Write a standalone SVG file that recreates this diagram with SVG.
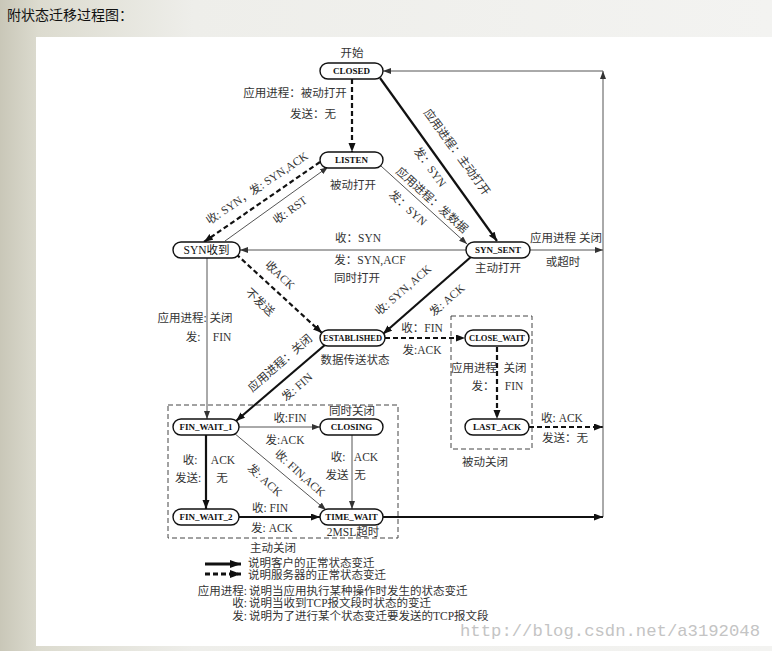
<svg xmlns="http://www.w3.org/2000/svg" width="772" height="651" viewBox="0 0 772 651">
<defs>
<linearGradient id="bg" x1="0" y1="0" x2="1" y2="0">
<stop offset="0" stop-color="#c9c7b8"/>
<stop offset="0.05" stop-color="#dcdbcf"/>
<stop offset="0.25" stop-color="#eeeeea"/>
<stop offset="1" stop-color="#f3f3f1"/>
</linearGradient>
<marker id="ah" markerUnits="userSpaceOnUse" markerWidth="10" markerHeight="8" refX="9" refY="3.5" orient="auto">
<path d="M0,0 L9,3.5 L0,7 z" fill="#111"/>
</marker>
<marker id="ahs" markerUnits="userSpaceOnUse" markerWidth="9" markerHeight="7" refX="8" refY="3" orient="auto">
<path d="M0,0 L8,3 L0,6 z" fill="#333"/>
</marker>
<marker id="ahl" markerUnits="userSpaceOnUse" markerWidth="12" markerHeight="9" refX="11" refY="4" orient="auto">
<path d="M0,0 L11,4 L0,8 z" fill="#111"/>
</marker>
</defs>
<style>
.nd rect{fill:#fff;stroke:#111;stroke-width:1.4}
.nl{font-family:"Liberation Serif","Noto Sans CJK SC",serif;font-weight:bold;font-size:9px;fill:#111;text-anchor:middle;dominant-baseline:central}
.t{font-family:"Liberation Serif","Noto Sans CJK SC",serif;font-size:11.5px;fill:#333;text-anchor:middle;dominant-baseline:central}
.thick{stroke:#111;stroke-width:2.2;fill:none;marker-end:url(#ah)}
.thin{stroke:#555;stroke-width:1;fill:none;marker-end:url(#ahs)}
.dash{stroke:#111;stroke-width:2.2;fill:none;stroke-dasharray:5,3;marker-end:url(#ah)}
.box{fill:none;stroke:#444;stroke-width:1;stroke-dasharray:5,3}
</style>
<rect x="0" y="0" width="772" height="651" fill="url(#bg)"/>
<rect x="36" y="37" width="736" height="609" fill="#fff"/>
<text x="7" y="20" font-family="'Noto Sans CJK SC',sans-serif" font-size="14" fill="#111">附状态迁移过程图：</text>

<g id="boxes">
<rect class="box" x="168" y="405" width="230" height="133"/>
<rect class="box" x="451" y="316" width="81" height="133"/>
</g>

<g id="connectors">
<line class="dash" x1="352" y1="79" x2="352" y2="152"/>
<line class="thick" x1="380" y1="78" x2="497" y2="241"/>
<line class="thin" x1="381" y1="166" x2="467" y2="244"/>
<line class="dash" x1="320" y1="162" x2="204" y2="242"/>
<line class="thin" x1="225" y1="241" x2="328" y2="167"/>
<line class="thin" x1="466" y1="250" x2="240" y2="250"/>
<line class="dash" x1="236" y1="254" x2="322" y2="333"/>
<line class="thick" x1="472" y1="256" x2="383" y2="334"/>
<line class="dash" x1="385" y1="338" x2="465" y2="338"/>
<line class="thick" x1="326" y1="344" x2="236" y2="421"/>
<line class="thin" x1="207" y1="258" x2="207" y2="419"/>
<line class="dash" x1="497" y1="347" x2="497" y2="419"/>
<line class="dash" x1="529" y1="427" x2="603" y2="427"/>
<line class="thin" x1="603" y1="517" x2="603" y2="71"/>
<line class="thin" x1="603" y1="71" x2="383" y2="71"/>
<line class="thin" x1="530" y1="250" x2="603" y2="250"/>
<line class="thin" x1="239" y1="427" x2="320" y2="427"/>
<line class="thin" x1="234" y1="433" x2="326" y2="510"/>
<line class="thin" x1="352" y1="435" x2="352" y2="509"/>
<line class="thick" x1="206" y1="435" x2="206" y2="509"/>
<line class="thick" x1="239" y1="517" x2="320" y2="517"/>
<line class="thick" x1="383" y1="517" x2="603" y2="517"/>
</g>

<g id="CLOSED" class="nd"><rect x="320" y="63" width="63" height="16" rx="8"/><text class="nl" x="351.5" y="71">CLOSED</text></g>
<g id="LISTEN" class="nd"><rect x="320" y="152" width="63" height="16" rx="8"/><text class="nl" x="351.5" y="160">LISTEN</text></g>
<g id="SYN_SENT" class="nd"><rect x="466" y="242" width="64" height="16" rx="8"/><text class="nl" x="498" y="250">SYN_SENT</text></g>
<g id="SYN_RCVD" class="nd"><rect x="173" y="242" width="67" height="16" rx="8"/><text class="t" x="206.5" y="250" style="fill:#111">SYN收到</text></g>
<g id="ESTABLISHED" class="nd"><rect x="320" y="330" width="65" height="16" rx="8"/><text class="nl" x="352.5" y="338" textLength="59" lengthAdjust="spacingAndGlyphs">ESTABLISHED</text></g>
<g id="CLOSE_WAIT" class="nd"><rect x="465" y="330" width="64" height="16" rx="8"/><text class="nl" x="497" y="338" textLength="56" lengthAdjust="spacingAndGlyphs">CLOSE_WAIT</text></g>
<g id="LAST_ACK" class="nd"><rect x="465" y="419" width="64" height="16" rx="8"/><text class="nl" x="497" y="427">LAST_ACK</text></g>
<g id="FIN_WAIT_1" class="nd"><rect x="173" y="419" width="66" height="16" rx="8"/><text class="nl" x="206" y="427">FIN_WAIT_1</text></g>
<g id="CLOSING" class="nd"><rect x="320" y="419" width="63" height="16" rx="8"/><text class="nl" x="351.5" y="427">CLOSING</text></g>
<g id="FIN_WAIT_2" class="nd"><rect x="173" y="509" width="66" height="16" rx="8"/><text class="nl" x="206" y="517">FIN_WAIT_2</text></g>
<g id="TIME_WAIT" class="nd"><rect x="320" y="509" width="63" height="16" rx="8"/><text class="nl" x="351.5" y="517">TIME_WAIT</text></g>

<g id="labels">
<text class="t" x="352" y="53">开始</text>
<text class="t" x="295" y="93">应用进程：被动打开</text>
<text class="t" x="313" y="114">发送：无</text>
<text class="t" x="353" y="185">被动打开</text>
<text class="t" x="498" y="268">主动打开</text>
<text class="t" x="566" y="238">应用进程 关闭</text>
<text class="t" x="563" y="262">或超时</text>
<text class="t" x="358" y="238">收：SYN</text>
<text class="t" x="370" y="260">发：SYN,ACF</text>
<text class="t" x="357" y="278">同时打开</text>
<text class="t" x="355" y="360">数据传送状态</text>
<text class="t" x="422" y="328">收：FIN</text>
<text class="t" x="422" y="350">发:ACK</text>
<text class="t" x="195" y="318">应用进程: 关闭</text>
<text class="t" x="193" y="337">发:</text>
<text class="t" x="222" y="337">FIN</text>
<text class="t" x="474" y="368">应用进程</text>
<text class="t" x="515" y="368">关闭</text>
<text class="t" x="483" y="386">发：</text>
<text class="t" x="514" y="386">FIN</text>
<text class="t" x="562" y="418">收: ACK</text>
<text class="t" x="565" y="438">发送：无</text>
<text class="t" x="485" y="462">被动关闭</text>
<text class="t" x="290" y="418">收:FIN</text>
<text class="t" x="285" y="440">发:ACK</text>
<text class="t" x="352" y="411">同时关闭</text>
<text class="t" x="190" y="460">收:</text>
<text class="t" x="223" y="460">ACK</text>
<text class="t" x="188" y="478">发送:</text>
<text class="t" x="222" y="478">无</text>
<text class="t" x="338" y="457">收:</text>
<text class="t" x="366" y="457">ACK</text>
<text class="t" x="337" y="475">发送</text>
<text class="t" x="360" y="475">无</text>
<text class="t" x="270" y="508">收: FIN</text>
<text class="t" x="272" y="528">发: ACK</text>
<text class="t" x="353" y="532">2MSL超时</text>
<text class="t" x="273" y="548">主动关闭</text>
<text class="t" transform="translate(457,152) rotate(54)">应用进程：主动打开</text>
<text class="t" transform="translate(430,167) rotate(54)">发：SYN</text>
<text class="t" transform="translate(432,200) rotate(42)">应用进程：发数据</text>
<text class="t" transform="translate(408,208) rotate(42)">发：SYN</text>
<text class="t" transform="translate(257,188) rotate(-34)">收: SYN，发: SYN,ACK</text>
<text class="t" transform="translate(290,210) rotate(-36)">收: RST</text>
<text class="t" transform="translate(280,275) rotate(43)">收ACK</text>
<text class="t" transform="translate(260,302) rotate(43)">不发送</text>
<text class="t" transform="translate(403,290) rotate(-41)">收: SYN, ACK</text>
<text class="t" transform="translate(447,300) rotate(-41)">发: ACK</text>
<text class="t" transform="translate(280,363) rotate(-41)">应用进程：关闭</text>
<text class="t" transform="translate(297,387) rotate(-41)">发: FIN</text>
<text class="t" transform="translate(300,473) rotate(42)">收: FIN,ACK</text>
<text class="t" transform="translate(265,480) rotate(42)">发: ACK</text>
</g>

<g id="legend">
<line x1="205" y1="564" x2="241" y2="564" stroke="#111" stroke-width="3" marker-end="url(#ahl)"/>
<line x1="205" y1="574" x2="241" y2="574" stroke="#111" stroke-width="3" stroke-dasharray="5,3" marker-end="url(#ahl)"/>
<text class="t" x="248" y="563" style="text-anchor:start">说明客户的正常状态变迁</text>
<text class="t" x="248" y="575" style="text-anchor:start">说明服务器的正常状态变迁</text>
<text class="t" x="247" y="591" style="text-anchor:end">应用进程:</text>
<text class="t" x="249" y="591" style="text-anchor:start">说明当应用执行某种操作时发生的状态变迁</text>
<text class="t" x="247" y="603" style="text-anchor:end">收:</text>
<text class="t" x="249" y="603" style="text-anchor:start">说明当收到TCP报文段时状态的变迁</text>
<text class="t" x="247" y="616" style="text-anchor:end">发:</text>
<text class="t" x="249" y="616" style="text-anchor:start">说明为了进行某个状态变迁要发送的TCP报文段</text>
</g>
<text x="460" y="636" font-family="'Liberation Mono',monospace" font-size="17" fill="#c4c4c4" textLength="300" lengthAdjust="spacingAndGlyphs">http://blog.csdn.net/a3192048</text>
</svg>
